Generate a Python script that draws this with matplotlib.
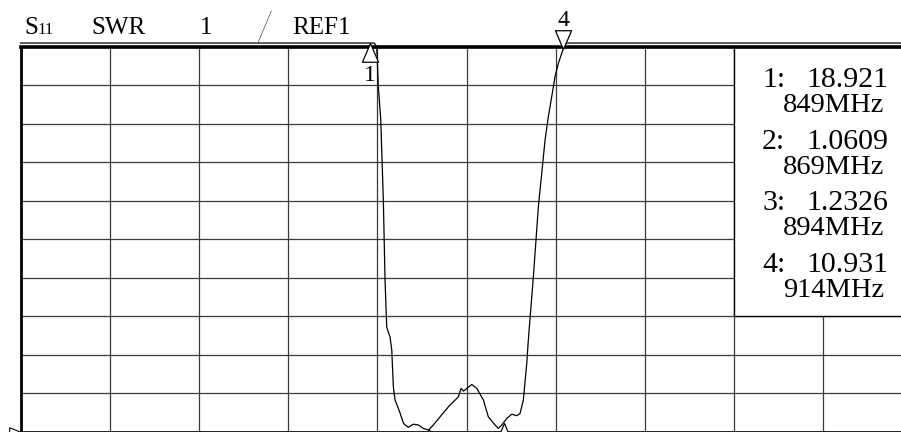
import numpy as np
import matplotlib.pyplot as plt
from matplotlib.path import Path
from matplotlib.patches import Rectangle

# S11 sweep, SWR trace (values above the screen top get pinned to the top)
freq_mhz = [731.5, 760.0, 800.0, 830.0, 849.0, 850.5,
            851.31, 851.85, 852.66, 853.53, 854.10, 854.67, 855.79, 856.36,
            856.90, 857.47, 859.15, 860.26, 860.83, 861.94, 863.62, 865.30,
            866.99, 868.67, 869.0, 870.35, 872.60, 875.40, 876.54, 878.76,
            879.67, 880.44, 881.01, 883.27, 884.95, 887.17, 888.85, 891.10,
            892.21, 893.36, 894.0, 895.04, 896.72, 898.40, 899.51, 900.62,
            901.77, 902.30, 903.99, 905.67, 906.81, 907.92, 909.03, 910.17,
            911.28, 912.39, 914.0, 915.0, 930.0, 960.0, 1000.0, 1031.5]
swr = [24.0, 23.0, 21.5, 20.2, 18.921, 14.0,
       10.99, 9.96, 9.09, 7.01, 4.94, 3.71, 3.45, 3.12,
       2.16, 1.82, 1.48, 1.22, 1.17, 1.11, 1.19, 1.17,
       1.08, 1.04, 1.0609, 1.17, 1.38, 1.64, 1.73, 1.90,
       2.12, 2.05, 2.08, 2.22, 2.12, 1.82, 1.38, 1.17,
       1.08, 1.17, 1.2326, 1.34, 1.45, 1.41, 1.47, 1.82,
       2.77, 3.38, 5.02, 6.84, 7.71, 8.57, 9.18, 9.70,
       10.22, 10.56, 10.931, 11.8, 14.0, 17.0, 19.0, 20.0]

marker_freq = [849, 869, 894, 914]
marker_swr = [18.921, 1.0609, 1.2326, 10.931]

f_start = 731.5
mhz_per_div = 30
swr_ref = 1
swr_per_div = 1
n_div = 10
swr_top = swr_ref + n_div * swr_per_div
swr_pin = swr_top + 0.09

W, H = 901, 432
serif = 'Liberation Serif'


def px(x, y):
    return x / W, 1 - y / H


fig = plt.figure(figsize=(W / 100, H / 100), dpi=100)
fig.patch.set_facecolor('white')
ax = fig.add_axes([20.5 / W, 0.5 / H, 892 / W, 385 / H])
ax.set_xlim(f_start, f_start + n_div * mhz_per_div)
ax.set_ylim(swr_ref, swr_top)
ax.set_xticks(f_start + mhz_per_div * np.arange(n_div + 1))
ax.set_yticks(swr_ref + swr_per_div * np.arange(n_div + 1))
ax.tick_params(length=0, labelbottom=False, labelleft=False)
ax.set_axisbelow(True)
ax.grid(True, color='#3a3a3a', lw=0.9)
ax.spines['top'].set_linewidth(2.6)
ax.spines['left'].set_linewidth(2.0)
ax.spines['bottom'].set_linewidth(1.2)

# marker readout panel over the upper right of the grid
ax.add_patch(Rectangle((f_start + 8 * mhz_per_div, 4), 2 * mhz_per_div,
                       swr_top - 4, fc='white', ec='black', lw=1.0, zorder=2))

shown = np.minimum(np.array(swr), swr_pin)
ax.plot(freq_mhz, shown, color='black', lw=0.9, clip_on=False, zorder=3)

# marker triangles, tip sitting on the trace
tip_up = Path([(0, 0), (-0.43, -1), (0.43, -1), (0, 0)], closed=True)
tip_down = Path([(0, 0), (-0.43, 1), (0.43, 1), (0, 0)], closed=True)
for i, (f, v) in enumerate(zip(marker_freq, marker_swr)):
    y = min(v, swr_pin)
    shape = tip_down if i == 3 else tip_up
    ax.plot([f], [y], ls='none', marker=shape, ms=27, mfc='white',
            mec='black', mew=0.9, clip_on=False, zorder=4)
ax.annotate('1', xy=(marker_freq[0], swr_pin), xytext=(0, -16),
            textcoords='offset points', ha='center', va='top',
            fontsize=17, family=serif, annotation_clip=False)
ax.annotate('4', xy=(marker_freq[3], marker_swr[3]), xytext=(0, 17),
            textcoords='offset points', ha='center', va='baseline',
            fontsize=17, family=serif, annotation_clip=False)

# reference level pointer at the left edge
ref_ptr = Path([(0, 0), (-1, 0.4), (-1, -0.4), (0, 0)], closed=True)
ax.plot([f_start], [swr_ref], ls='none', marker=ref_ptr, ms=17, mfc='white',
        mec='black', mew=0.8, clip_on=False, zorder=4)

# header line
hdr = dict(family=serif, fontsize=18, va='baseline', ha='left')
fig.text(*px(24, 34), 'S', **hdr)
fig.text(*px(37, 34), '11', family=serif, fontsize=12, va='baseline')
fig.text(*px(91, 34), 'SWR', **hdr)
fig.text(*px(200, 34), '1', **hdr)
fig.text(*px(255, 41), '/', family=['Lato', 'DejaVu Sans'], fontweight=100,
         fontsize=30, va='baseline')
fig.text(*px(292, 34), 'REF1', **hdr)

# marker readout
for i, (f, v) in enumerate(zip(marker_freq, marker_swr)):
    base = 87 + i * 61.7
    fig.text(*px(762, base), f'{i + 1}:', family=serif,
             fontsize=21.5, va='baseline', zorder=5)
    fig.text(*px(888, base), f'{v:.5g}', family=serif, ha='right',
             fontsize=21.5, va='baseline', zorder=5)
    fig.text(*px(884, base + 25), f'{f}MHz', family=serif, ha='right',
             fontsize=20.5, va='baseline', zorder=5)

fig.savefig('out.png', dpi=100)
